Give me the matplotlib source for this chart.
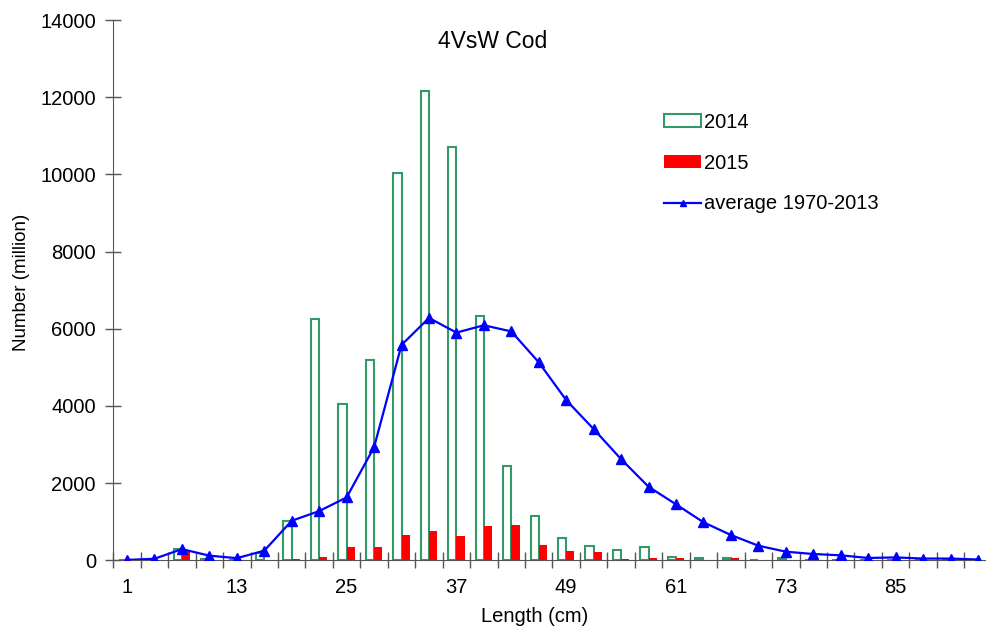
import numpy as np
import matplotlib.pyplot as plt
from matplotlib.patches import Patch
from matplotlib.lines import Line2D

plt.rcParams['font.family'] = ['Liberation Sans', 'DejaVu Sans']

# length classes (cm)
lengths = list(range(1, 95, 3))

# numbers at length (million)
n_2014 = [0, 20, 300, 40, 0, 190, 1020, 6260, 4050, 5180,
          10030, 12170, 10700, 6340, 2450, 1160, 570, 380, 266, 336,
          77, 60, 60, 0, 60, 0, 0, 0, 0, 0, 0, 0]
n_2015 = [0, 15, 265, 20, 0, 20, 40, 95, 345, 350,
          655, 765, 630, 887, 913, 396, 240, 215, 33, 68,
          50, 0, 60, 0, 0, 0, 0, 0, 10, 0, 0, 0]
avg_7013 = [10, 40, 290, 120, 55, 250, 1025, 1275, 1630, 2930,
            5580, 6280, 5900, 6090, 5930, 5130, 4150, 3400, 2620, 1905,
            1450, 985, 655, 378, 223, 163, 129, 60, 75, 45, 45, 20]

x = np.arange(len(lengths))
w = 0.3

fig = plt.figure(figsize=(9.87, 6.3), dpi=100)
ax = fig.add_axes([113.3/987, 69.7/630, 878.4/987, 540.3/630])

ax.bar(x - w/2, n_2014, width=w, facecolor='white', edgecolor='#339966', linewidth=1.5, zorder=2)
ax.bar(x + w/2, n_2015, width=w, color='#ff0000', linewidth=0, zorder=2)
ax.plot(x, avg_7013, color='#0000ff', lw=1.6, marker='^', ms=6.5, zorder=3)

ax.set_xlim(-0.5, len(lengths) - 0.5)
ax.set_ylim(0, 14000)
ax.set_yticks(np.arange(0, 14001, 2000))

# category boundaries get the tick marks, labels every 4th class
ax.set_xticks(np.arange(-0.5, len(lengths), 1.0))
ax.set_xticklabels([])
ax.set_xticks(x[::4], [str(v) for v in lengths[::4]], minor=True)
ax.tick_params(axis='x', which='minor', length=0, pad=12.5)
ax.tick_params(which='major', direction='inout', length=11, width=1, color='#555555')
ax.tick_params(axis='y', pad=7)
ax.tick_params(which='both', labelsize=14.5)

for s in ['top', 'right']:
    ax.spines[s].set_visible(False)
for s in ['left', 'bottom']:
    ax.spines[s].set_color('#555555')

fig.text(535/987, 1 - 617/630, 'Length (cm)', ha='center', va='center', fontsize=14.5)
fig.text(22/987, 1 - 282/630, 'Number (million)', ha='center', va='center', rotation=90, fontsize=13.5)
fig.text(493/987, 1 - 41/630, '4VsW Cod', ha='center', va='center', fontsize=16.5)

handles = [Patch(facecolor='white', edgecolor='#339966', linewidth=1.5),
           Patch(facecolor='#ff0000', edgecolor='none'),
           Line2D([], [], color='#0000ff', lw=1.6, marker='^', ms=4)]
ax.legend(handles, ['2014', '2015', 'average 1970-2013'], loc='upper left',
          bbox_to_anchor=(646/987, 1 - 94.7/630), bbox_transform=fig.transFigure,
          frameon=False, fontsize=14.5, handlelength=1.85, handleheight=0.6,
          handletextpad=0.15, labelspacing=1.08)

fig.savefig('out.png', dpi=100)
